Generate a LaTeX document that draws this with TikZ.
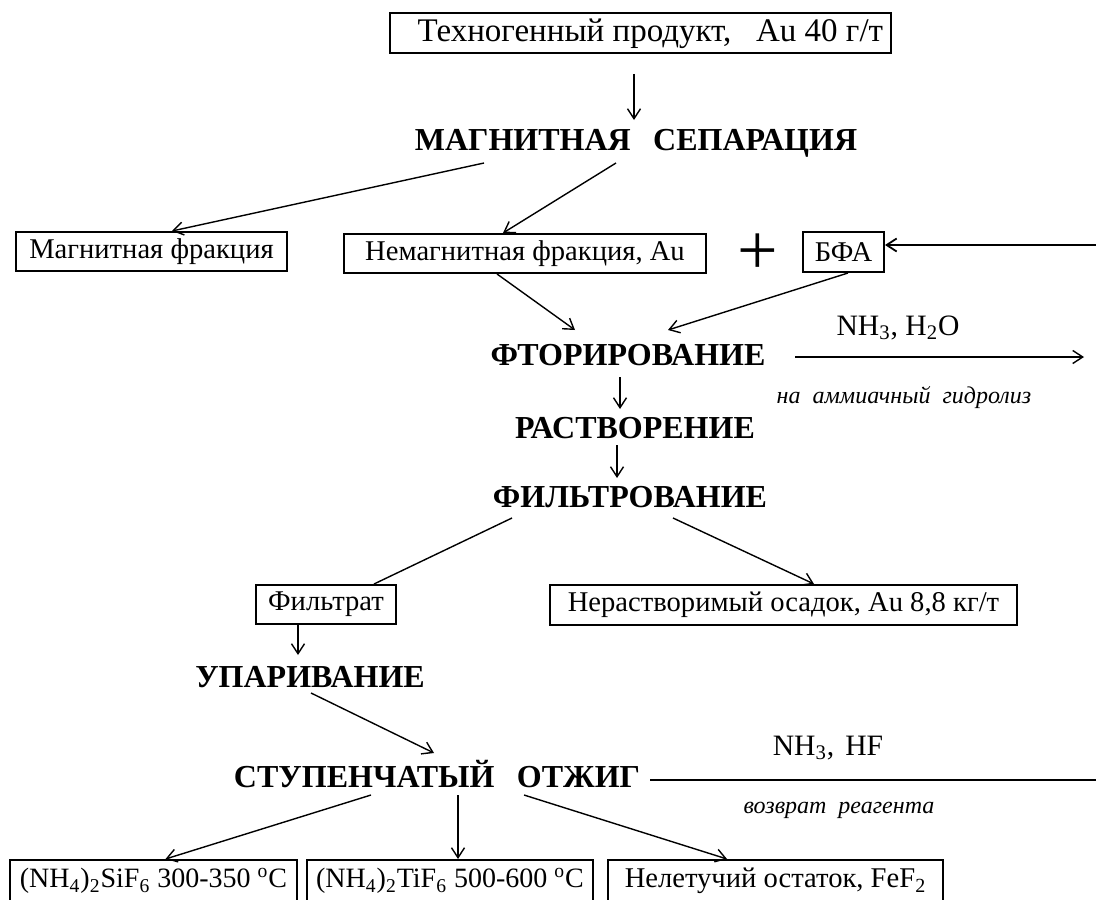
\documentclass[tikz,border=0pt]{standalone}
\usepackage{fontspec}
\setmainfont{Liberation Serif}
\usepackage{tikz}
\usetikzlibrary{arrows.meta,calc}
\tikzset{
  box/.style={rectangle, draw=black, line width=1pt, inner sep=0pt,
              font=\fontsize{14.3}{17}\selectfont, text centered},
  stage/.style={inner sep=0pt, anchor=base,
                font=\fontsize{16}{19}\selectfont\bfseries},
  chem/.style={inner sep=0pt, font=\fontsize{14.8}{17}\selectfont},
  note/.style={inner sep=0pt, font=\fontsize{12}{14}\selectfont\itshape},
  flow/.style={-{Straight Barb[length=5pt,width=6.5pt]}, line width=0.7pt},
  link/.style={line width=0.7pt},
}

\begin{document}
\begin{tikzpicture}[x=0.5pt, y=-0.5pt,
  recycle/.style={line width=0.9pt},
]

%% Frame: fixes the page to the size of the reference
\useasboundingbox (0,0) rectangle (1096,899);
\clip (0,0) rectangle (1096,899);
\fill[white] (0,0) rectangle (1096,899);

%% Bottom row level
\def\yBot{881}

%% ── Feed and magnetic separation ─────────────────────────────────────
\node[box, minimum width=250.5pt, minimum height=20pt,
      font=\fontsize{16.5}{19}\selectfont]
     (prod) at (640.5,33.5) {\hspace{0.6em}Техногенный продукт,\hspace{0.5em} Au 40 г/т};
\node[stage] (magsep) at (636,150) {МАГНИТНАЯ\hspace{0.45em} СЕПАРАЦИЯ};

\node[box, minimum width=135.5pt, minimum height=19.5pt]
     (magfr) at (151.5,251.5) {Магнитная фракция};
\node[box, minimum width=181pt, minimum height=19.5pt]
     (nonmag) at (525,253.5) {Немагнитная фракция, Au};
\node[inner sep=0pt, font=\fontsize{36}{36}\selectfont] (plus) at (758,254) {+};
\node[box, minimum width=40.5pt, minimum height=20pt]
     (bfa) at (843.5,252) {БФА};

%% ── Fluorination, dissolution, filtration ────────────────────────────
\node[stage] (fluor)  at (628,365) {ФТОРИРОВАНИЕ};
\node[stage] (dissol) at (635,438) {РАСТВОРЕНИЕ};
\node[stage] (filt)   at (630,507) {ФИЛЬТРОВАНИЕ};

\node[chem] (nhwater) at (898,328) {NH\textsubscript{3}, H\textsubscript{2}O};
\node[note] (tohydro) at (904,398) {на\hspace{0.5em}аммиачный\hspace{0.5em}гидролиз};

\node[box, minimum width=70pt, minimum height=19.5pt]
     (filtrate) at (326,604.5) {Фильтрат};
\node[box, minimum width=233.5pt, minimum height=20pt]
     (residue) at (783.5,605) {Нерастворимый осадок, Au 8,8 кг/т};

%% ── Evaporation and stepwise annealing ───────────────────────────────
\node[stage] (evap)   at (310,687) {УПАРИВАНИЕ};
\node[stage] (anneal) at (437,787) {СТУПЕНЧАТЫЙ\hspace{0.45em} ОТЖИГ};

\node[chem] (nhhf)   at (828,748) {NH\textsubscript{3},\hspace{0.12em} HF};
\node[note] (return) at (839,810) {возврат\hspace{0.5em}реагента};

\node[box, minimum width=143.5pt, minimum height=21pt, font=\fontsize{14}{17}\selectfont]
     (sif) at (153.5,\yBot) {(NH\textsubscript{4})\textsubscript{2}SiF\textsubscript{6} 300-350 \textsuperscript{o}C};
\node[box, minimum width=143pt, minimum height=21pt, font=\fontsize{14}{17}\selectfont]
     (tif) at (450,\yBot) {(NH\textsubscript{4})\textsubscript{2}TiF\textsubscript{6} 500-600 \textsuperscript{o}C};
\node[box, minimum width=167.5pt, minimum height=21pt]
     (nonvol) at (775.5,\yBot) {Нелетучий остаток, FeF\textsubscript{2}};

%% Free ends at the right margin
\coordinate (bfain)  at (1100,245);
\coordinate (hydro)  at (1084,357);
\coordinate (recyc)  at (1100,780);

%% ── Connectors ───────────────────────────────────────────────────────
\draw[flow] ($(prod.south)+(-6.5,19.5)$) -- ($(magsep.base)+(-2,-30)$);
\draw[flow] ($(magsep.base)+(-152,13)$) -- ($(magfr.north)+(20.5,0)$);
\draw[flow] ($(magsep.base)+(-20,13)$) -- ($(nonmag.north)+(-22,0)$);
\draw[flow, recycle] (bfain) -- ($(bfa.east)+(0,-7)$);

\draw[flow] ($(nonmag.south)+(-28,0)$) -- ($(fluor.base)+(-53,-35)$);
\draw[flow] ($(bfa.south)+(4.5,0)$) -- ($(fluor.base)+(40,-35)$);
\draw[flow] ($(fluor.base)+(167,-8)$) -- (hydro);

\draw[flow] ($(fluor.base)+(-8,12)$) -- ($(dissol.base)+(-15,-29)$);
\draw[flow] ($(dissol.base)+(-18,7)$) -- ($(filt.base)+(-13,-29)$);

\draw[link] ($(filt.base)+(-118,11)$) -- ($(filtrate.north)+(48,0)$);
\draw[flow] ($(filt.base)+(43,11)$) -- ($(residue.north)+(30.5,0)$);
\draw[flow] ($(filtrate.south)+(-28,0)$) -- ($(evap.base)+(-12,-32)$);
\draw[flow] ($(evap.base)+(1,6)$) -- ($(anneal.base)+(-3,-34)$);

\draw[link, recycle] ($(anneal.base)+(213,-7)$) -- (recyc);
\draw[flow] ($(anneal.base)+(-66,8)$) -- ($(sif.north)+(12,0)$);
\draw[flow] ($(anneal.base)+(21,8)$) -- ($(tif.north)+(8,0)$);
\draw[flow] ($(anneal.base)+(87,8)$) -- ($(nonvol.north)+(-48.5,0)$);

\end{tikzpicture}
\end{document}
